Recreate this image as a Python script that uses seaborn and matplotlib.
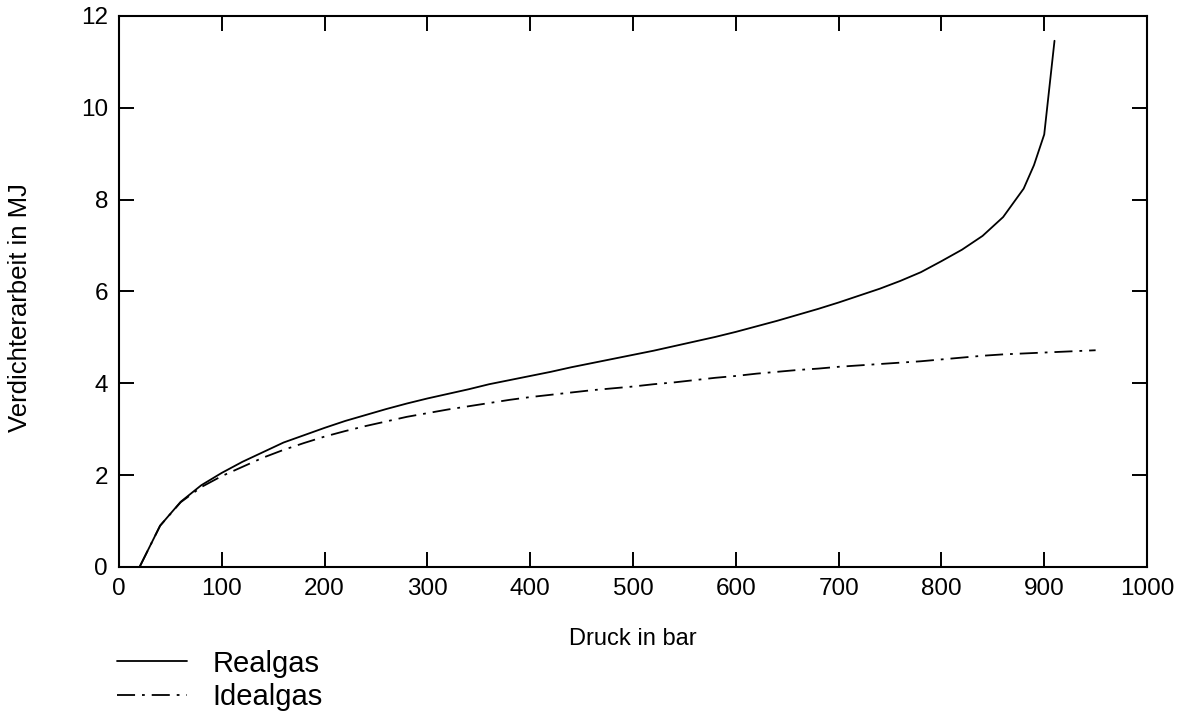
import matplotlib
matplotlib.use("Agg")
import matplotlib.pyplot as plt
import seaborn as sns
import pandas as pd

# Compressor work vs. final pressure
druck_real = [20, 40, 60, 80, 100, 120, 140, 160, 180, 200, 220, 240, 260, 280, 300,
              320, 340, 360, 380, 400, 420, 440, 460, 480, 500, 520, 540, 560, 580, 600,
              620, 640, 660, 680, 700, 720, 740, 760, 780, 800, 820, 840, 860, 880, 890,
              900, 910]
arbeit_real = [0.0, 0.90, 1.42, 1.78, 2.05, 2.29, 2.50, 2.71, 2.87, 3.03, 3.18, 3.31, 3.44,
               3.56, 3.67, 3.77, 3.87, 3.98, 4.07, 4.16, 4.25, 4.35, 4.44, 4.53, 4.62, 4.71,
               4.81, 4.91, 5.01, 5.12, 5.24, 5.36, 5.49, 5.62, 5.76, 5.91, 6.06, 6.23, 6.42,
               6.66, 6.91, 7.21, 7.62, 8.24, 8.75, 9.42, 11.46]

druck_ideal = [20, 40, 60, 80, 100, 120, 140, 160, 180, 200, 220, 240, 260, 280, 300,
               320, 340, 360, 380, 400, 420, 440, 460, 480, 500, 520, 540, 560, 580, 600,
               620, 640, 660, 680, 700, 720, 740, 760, 780, 800, 820, 840, 860, 880, 900,
               920, 940, 950]
arbeit_ideal = [0.0, 0.90, 1.41, 1.74, 1.98, 2.18, 2.38, 2.55, 2.70, 2.84, 2.96, 3.07, 3.17,
                3.27, 3.35, 3.43, 3.50, 3.57, 3.64, 3.70, 3.75, 3.80, 3.85, 3.89, 3.93, 3.98,
                4.02, 4.07, 4.12, 4.16, 4.21, 4.25, 4.29, 4.32, 4.36, 4.39, 4.42, 4.45, 4.48,
                4.52, 4.56, 4.60, 4.63, 4.65, 4.67, 4.69, 4.71, 4.72]

x_ticks = list(range(0, 1001, 100))
y_ticks = list(range(0, 13, 2))

sns.set_theme(style="ticks")
plt.rcParams["font.family"] = ["Liberation Sans", "DejaVu Sans"]
plt.rcParams["lines.scale_dashes"] = False
plt.rcParams["text.color"] = "black"
plt.rcParams["axes.labelcolor"] = "black"

df_real = pd.DataFrame({"Druck": druck_real, "Arbeit": arbeit_real})
df_ideal = pd.DataFrame({"Druck": druck_ideal, "Arbeit": arbeit_ideal})

fig = plt.figure(figsize=(11.89, 7.13), dpi=100)
ax = fig.add_axes([0.1001, 0.2048, 0.8646, 0.7728])

sns.lineplot(data=df_real, x="Druck", y="Arbeit", ax=ax, color="black",
             linewidth=1.3, label="Realgas")
sns.lineplot(data=df_ideal, x="Druck", y="Arbeit", ax=ax, color="black",
             linewidth=1.3, label="Idealgas")
ax.lines[1].set_dashes((13, 5, 2, 5))

ax.set_xlim(0, 1000)
ax.set_ylim(0, 12)
ax.set_xticks(x_ticks)
ax.set_yticks(y_ticks)
ax.tick_params(direction="in", length=11, width=1.4, top=True, right=True,
               labelsize=17.5, pad=8, colors="black")
for s in ax.spines.values():
    s.set_visible(True)
    s.set_linewidth(1.5)
    s.set_color("black")

ax.set_xlabel("Druck in bar", fontsize=17, labelpad=20, color="black")
ax.set_ylabel("Verdichterarbeit in MJ", fontsize=18.5, color="black")
ax.yaxis.set_label_coords(-0.085, 0.47)

handles, labels = ax.get_legend_handles_labels()
ax.legend(handles, labels, loc="upper left", bbox_to_anchor=(0.098, 0.089),
          bbox_transform=fig.transFigure, frameon=False, fontsize=21,
          handlelength=2.4, handletextpad=0.9, labelspacing=0.2,
          borderpad=0, borderaxespad=0)

fig.savefig("out.png", dpi=100)
